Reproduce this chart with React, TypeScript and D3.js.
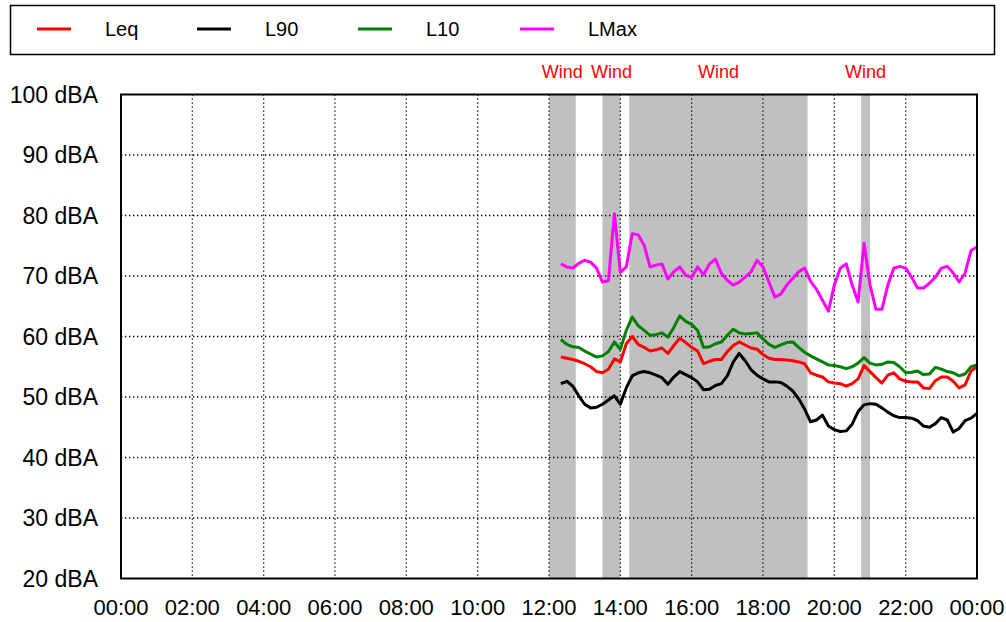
import React from "react";
import * as d3 from "d3";

// ---- Data ----
const times = [
  "12:20","12:30","12:40","12:50","13:00","13:10","13:20","13:30","13:40","13:50",
  "14:00","14:10","14:20","14:30","14:40","14:50","15:00","15:10","15:20","15:30",
  "15:40","15:50","16:00","16:10","16:20","16:30","16:40","16:50","17:00","17:10",
  "17:20","17:30","17:40","17:50","18:00","18:10","18:20","18:30","18:40","18:50",
  "19:00","19:10","19:20","19:30","19:40","19:50","20:00","20:10","20:20","20:30",
  "20:40","20:50","21:00","21:10","21:20","21:30","21:40","21:50","22:00","22:10",
  "22:20","22:30","22:40","22:50","23:00","23:10","23:20","23:30","23:40","23:50",
  "24:00",
];

const leq = [
  56.6,56.4,56.2,55.9,55.5,55.0,54.2,54.0,54.6,56.3,
  55.8,58.8,60.0,58.7,58.2,57.6,57.8,58.1,57.2,58.5,
  59.7,59.0,58.2,57.6,55.5,55.9,56.2,56.2,57.5,58.5,
  59.1,58.6,58.1,57.9,57.0,56.4,56.2,56.2,56.1,56.0,
  55.8,55.5,54.0,53.6,53.3,52.5,52.3,52.2,51.8,52.2,
  53.0,55.2,54.2,53.2,52.3,53.6,54.0,53.0,52.6,52.5,
  52.5,51.5,51.4,52.7,53.3,53.3,52.6,51.5,52.0,54.3,
  55.0,
];

const l90 = [
  52.2,52.6,51.8,50.2,48.8,48.2,48.3,48.8,49.5,50.2,
  48.8,51.5,53.5,54.0,54.2,54.0,53.6,53.2,52.1,53.3,
  54.2,53.7,53.2,52.5,51.2,51.3,51.9,52.2,53.5,55.8,
  57.2,56.0,54.5,53.6,53.0,52.5,52.5,52.4,51.8,51.0,
  49.7,48.0,45.9,46.2,47.0,45.2,44.6,44.3,44.4,45.5,
  47.6,48.7,48.9,48.8,48.2,47.5,46.9,46.6,46.6,46.5,
  46.1,45.2,45.0,45.6,46.6,46.2,44.2,44.8,46.1,46.5,
  47.3,
];

const l10 = [
  59.5,58.7,58.3,58.2,57.6,57.1,56.6,56.8,57.5,59.1,
  57.9,61.0,63.2,61.8,61.0,60.2,60.3,60.6,59.9,61.5,
  63.4,62.5,62.0,61.0,58.2,58.3,58.8,59.1,60.2,61.2,
  60.6,60.4,60.5,60.6,59.6,58.7,58.2,58.6,59.0,59.1,
  58.2,57.4,56.8,56.3,55.8,55.3,55.2,55.0,54.7,55.0,
  55.6,56.5,55.6,55.3,55.4,55.8,55.7,55.0,54.0,54.1,
  54.3,53.7,53.8,54.9,54.6,54.2,54.0,53.5,53.8,55.0,
  55.3,
];

const lmax = [
  72.0,71.5,71.3,72.1,72.6,72.3,71.3,69.0,69.2,80.3,
  70.6,71.5,77.0,76.8,75.1,71.5,71.8,72.0,69.5,70.7,
  71.5,70.1,69.8,71.5,70.2,72.0,72.8,70.4,69.3,68.5,
  69.0,69.8,70.7,72.6,71.5,69.0,66.5,67.0,68.5,69.6,
  70.7,71.3,69.1,67.8,66.0,64.2,68.5,71.3,72.0,68.5,
  65.7,75.4,68.5,64.5,64.5,68.5,71.3,71.6,71.3,69.8,
  68.0,68.0,68.8,69.8,71.3,71.6,70.5,69.0,70.5,74.2,
  74.8,
];

const windStart = ["12:00", "13:30", "14:15", "20:45"];
const windEnd = ["12:45", "14:00", "19:15", "21:00"];
const windLabel = "Wind";

const xTickLabels = ["00:00","02:00","04:00","06:00","08:00","10:00","12:00","14:00","16:00","18:00","20:00","22:00","00:00"];
const yTicks = [20, 30, 40, 50, 60, 70, 80, 90, 100];
const yUnit = "dBA";

const seriesNames = ["Leq", "L90", "L10", "LMax"];
const seriesColors = ["#ff0000", "#000000", "#008000", "#ff00ff"];
const seriesData = [leq, l90, l10, lmax];

// ---- Layout ----
const W = 1006;
const H = 622;
const plot = { left: 121, right: 977, top: 94.5, bottom: 578.5 };
const FONT = "'Liberation Sans', Arial, sans-serif";

const toHours = (s: string) => {
  const [h, m] = s.split(":").map(Number);
  return h + m / 60;
};

export default function App() {
  const x = d3.scaleLinear().domain([0, 24]).range([plot.left, plot.right]);
  const y = d3.scaleLinear().domain([20, 100]).range([plot.bottom, plot.top]);
  const hours = times.map(toHours);

  const line = (vals: number[]) =>
    d3
      .line<number>()
      .x((_, i) => x(hours[i]))
      .y((v) => y(v))(vals) || "";

  const xTickHours = d3.range(0, 25, 2);

  const legendX = [37, 197, 358, 520];

  return (
    <svg
      width={W}
      height={H}
      style={{ position: "absolute", left: 0, top: 0, background: "#fff" }}
      fontFamily={FONT}
    >
      <rect x={0} y={0} width={W} height={H} fill="#fff" />
      {/* Legend */}
      <rect x={10.5} y={5.5} width={984} height={49} fill="#fff" stroke="#000" strokeWidth={1.5} />
      {seriesNames.map((n, i) => (
        <g key={n}>
          <line x1={legendX[i]} x2={legendX[i] + 34} y1={29} y2={29} stroke={seriesColors[i]} strokeWidth={3} />
          <text x={legendX[i] + 68} y={36} fontSize={20} fill="#000">
            {n}
          </text>
        </g>
      ))}

      {/* Wind shading */}
      {windStart.map((s, i) => {
        const x0 = x(toHours(s));
        const x1 = x(toHours(windEnd[i]));
        return (
          <g key={"w" + i}>
            <rect x={x0} y={plot.top} width={x1 - x0} height={plot.bottom - plot.top} fill="#c0c0c0" />
            <text x={(x0 + x1) / 2} y={78} fontSize={18} fill="#ff0000" textAnchor="middle">
              {windLabel}
            </text>
          </g>
        );
      })}

      {/* Grid */}
      {yTicks.slice(1, -1).map((t) => (
        <line
          key={"gy" + t}
          x1={plot.left}
          x2={plot.right}
          y1={y(t)}
          y2={y(t)}
          stroke="#000"
          strokeWidth={1.3}
          strokeDasharray="1.3,2.7"
        />
      ))}
      {xTickHours.slice(1, -1).map((h) => (
        <line
          key={"gx" + h}
          x1={x(h)}
          x2={x(h)}
          y1={plot.top}
          y2={plot.bottom}
          stroke="#000"
          strokeWidth={1.3}
          strokeDasharray="1.3,2.7"
        />
      ))}

      {/* Series */}
      {[1, 2, 0, 3].map((si) => (
        <path
          key={"s" + si}
          d={line(seriesData[si])}
          fill="none"
          stroke={seriesColors[si]}
          strokeWidth={3}
          strokeLinejoin="round"
        />
      ))}

      {/* Plot border */}
      <rect
        x={plot.left}
        y={plot.top}
        width={plot.right - plot.left}
        height={plot.bottom - plot.top}
        fill="none"
        stroke="#000"
        strokeWidth={2}
      />

      {/* Y labels */}
      {yTicks.map((t) => (
        <text key={"yl" + t} x={98} y={y(t) + 8} fontSize={23} textAnchor="end" fill="#000">
          {t} {yUnit}
        </text>
      ))}

      {/* X labels */}
      {xTickHours.map((h, i) => (
        <text key={"xl" + i} x={x(h)} y={615} fontSize={22} textAnchor="middle" fill="#000">
          {xTickLabels[i]}
        </text>
      ))}
    </svg>
  );
}
